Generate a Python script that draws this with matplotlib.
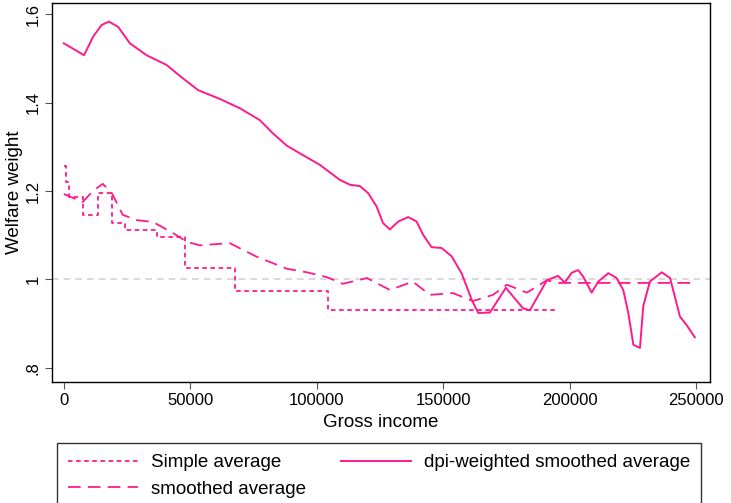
import numpy as np
import matplotlib
matplotlib.use('Agg')
import matplotlib.pyplot as plt

plt.rcParams['font.family'] = ['Liberation Sans', 'DejaVu Sans']

pink = '#ff1a8c'

# simple average (step function)
simple_x = [0, 1000, 2000, 7500, 13500, 19000, 24000, 37000, 48000, 67500, 104500, 195000]
simple_y = [1.256, 1.22, 1.187, 1.146, 1.196, 1.128, 1.112, 1.096, 1.026, 0.974, 0.931, 0.931]

# smoothed average
smooth_x = [0, 7500, 11500, 15400, 19000, 23300, 28800, 35200, 43100, 48600, 53800, 65600, 76300,
            88200, 96100, 104000, 110300, 119800, 128900, 137900, 144700, 153800, 161700,
            169600, 175100, 183000, 190900, 195300, 250000]
smooth_y = [1.193, 1.175, 1.2, 1.216, 1.195, 1.146, 1.134, 1.13, 1.105, 1.085, 1.077, 1.082, 1.051,
            1.024, 1.016, 1.005, 0.99, 1.003, 0.976, 0.995, 0.965, 0.969, 0.951,
            0.965, 0.988, 0.97, 0.998, 0.992, 0.992]

# dpi-weighted smoothed average
dpi_x = [0, 8000, 11600, 14900, 17800, 21500, 26100, 32700, 40600, 45900, 53100, 61700, 69600,
         77500, 82700, 88000, 93300, 101200, 109100, 113100, 117000, 120300, 123600, 126200,
         128900, 132200, 136100, 139400, 142000, 145300, 149300, 153300, 157200, 161200,
         163800, 168400, 174700, 181400, 184200, 190900, 195300, 198000, 200700, 203300,
         205300, 208600, 211200, 215200, 218500, 221100, 223100, 225100, 227700, 229000,
         231600, 236300, 239600, 243500, 246100, 249400]
dpi_y = [1.534, 1.507, 1.549, 1.575, 1.583, 1.571, 1.534, 1.507, 1.485, 1.46, 1.428, 1.408, 1.387,
         1.36, 1.33, 1.303, 1.285, 1.259, 1.225, 1.214, 1.211, 1.195, 1.165, 1.127,
         1.113, 1.131, 1.141, 1.131, 1.101, 1.073, 1.071, 1.052, 1.014, 0.954,
         0.924, 0.925, 0.981, 0.935, 0.93, 0.998, 1.008, 0.993, 1.015, 1.021,
         1.006, 0.97, 0.995, 1.014, 1.003, 0.976, 0.924, 0.852, 0.845, 0.939,
         0.995, 1.016, 1.003, 0.916, 0.897, 0.869]

fig = plt.figure(figsize=(7.31, 5.03), dpi=100)
ax = fig.add_axes([0.071, 0.2406, 0.9, 0.7534])

ax.axhline(1, color='#d3d3d3', lw=1.2, ls=(0, (4, 3)), zorder=1)
l1, = ax.plot(simple_x, simple_y, drawstyle='steps-post', color=pink, lw=1.3,
              ls=(0, (2.5, 2)), label='Simple average')
l2, = ax.plot(smooth_x, smooth_y, color=pink, lw=1.3, ls=(0, (7, 4)), label='smoothed average')
l3, = ax.plot(dpi_x, dpi_y, color=pink, lw=1.4, label='dpi-weighted smoothed average')

ax.set_xlim(-4700, 255300)
ax.set_ylim(0.768, 1.625)
ax.set_xticks([0, 50000, 100000, 150000, 200000, 250000])
ax.set_xticklabels(['0', '50000', '100000', '150000', '200000', '250000'], fontsize=12)
ax.set_yticks([0.8, 1.0, 1.2, 1.4, 1.6])
ax.set_yticklabels(['.8', '1', '1.2', '1.4', '1.6'], fontsize=12, rotation=90, va='center')
ax.tick_params(direction='out', length=5, color='#555555', pad=3)
for s in ax.spines.values():
    s.set_linewidth(1.0)
ax.set_xlabel('Gross income', fontsize=13.5, labelpad=4)
ax.set_ylabel('Welfare weight', fontsize=13.5, labelpad=2)

leg = fig.legend(handles=[l1, l2, l3], ncol=2, loc='upper left',
                 bbox_to_anchor=(57 / 731, 1 - 443 / 503), fancybox=False,
                 edgecolor='black', fontsize=13.5, handlelength=3.7, handletextpad=0.7,
                 labelspacing=0.5, columnspacing=1.9, borderpad=0.6, borderaxespad=0)
leg.get_frame().set_linewidth(1.0)

fig.savefig('out.png', dpi=100)
